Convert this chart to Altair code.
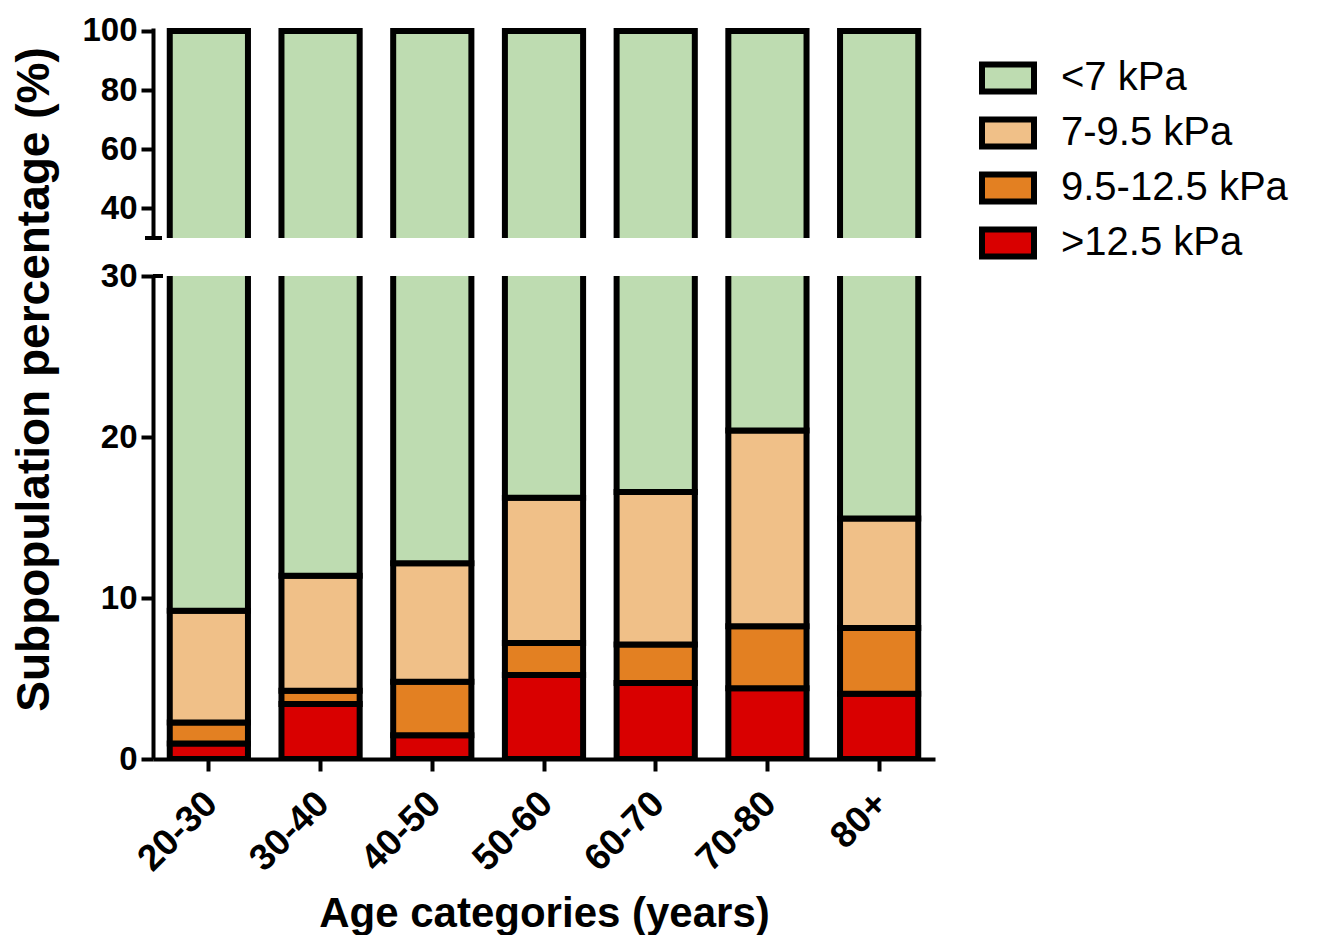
import altair as alt
import pandas as pd

ages = ["20-30", "30-40", "40-50", "50-60", "60-70", "70-80", "80+"]
categories = ["<7 kPa", "7-9.5 kPa", "9.5-12.5 kPa", ">12.5 kPa"]
colors = ["#BEDCB1", "#F0C088", "#E38022", "#D90000"]

red = [0.97, 3.42, 1.48, 5.21, 4.72, 4.39, 4.06]
orange = [1.29, 0.82, 3.32, 2.00, 2.39, 3.85, 4.08]
peach = [6.95, 7.14, 7.36, 9.01, 9.48, 12.17, 6.80]
green = [round(100 - r - o - p, 2) for r, o, p in zip(red, orange, peach)]

rows = []
for i, a in enumerate(ages):
    for cat, vals, ordv in [(">12.5 kPa", red, 0), ("9.5-12.5 kPa", orange, 1),
                            ("7-9.5 kPa", peach, 2), ("<7 kPa", green, 3)]:
        rows.append({"age": a, "cat": cat, "value": vals[i], "ord": ordv})
df = pd.DataFrame(rows)

FONT = "Liberation Sans"
W = 782

color = alt.Color(
    "cat:N",
    scale=alt.Scale(domain=categories, range=colors),
    legend=alt.Legend(
        title=None, orient="none", legendX=826, legendY=21, padding=0,
        symbolType="M-1,-0.52H1V0.52H-1Z", symbolSize=2704,
        symbolStrokeColor="black", symbolStrokeWidth=6, symbolOpacity=1,
        labelFontSize=40, labelFont=FONT, labelColor="black", labelLimit=0,
        labelOffset=24, rowPadding=0,
    ),
)

xscale = alt.Scale(paddingInner=0.3, paddingOuter=0.15)
common_y_axis = dict(domainColor="black", domainWidth=4, tickColor="black",
                     tickWidth=4, tickSize=12, labelFont=FONT, labelFontSize=33,
                     labelFontWeight="bold", labelColor="black", labelPadding=4,
                     grid=False)

upper_bars = alt.Chart(df).mark_bar(stroke="black", strokeWidth=6, clip=True).encode(
    x=alt.X("age:N", sort=ages, scale=xscale, axis=None),
    y=alt.Y("value:Q", stack="zero", scale=alt.Scale(domain=[30, 101], nice=False),
            axis=alt.Axis(values=[40, 60, 80, 100], title=None, **common_y_axis)),
    color=color,
    order=alt.Order("ord:Q", sort="ascending"),
)
upper_break = alt.Chart(df).mark_rule(color="black", strokeWidth=4).encode(
    y=alt.datum(30), x=alt.value(-8), x2=alt.value(9)
)
upper = alt.layer(upper_bars, upper_break).properties(width=W, height=210)

lower_bars = alt.Chart(df).mark_bar(stroke="black", strokeWidth=6, clip=True).encode(
    x=alt.X("age:N", sort=ages, scale=xscale,
            axis=alt.Axis(title="Age categories (years)", labelAngle=-45,
                          labelFont=FONT, labelFontSize=37, labelFontWeight="bold",
                          labelColor="black", labelPadding=14, labelOffset=-10,
                          titleFont=FONT, titleFontSize=42, titleFontWeight="bold",
                          titleColor="black", titlePadding=16,
                          domainColor="black", domainWidth=4, tickColor="black",
                          tickWidth=4, tickSize=12, grid=False)),
    y=alt.Y("value:Q", stack="zero", scale=alt.Scale(domain=[0, 30], nice=False),
            axis=alt.Axis(values=[0, 10, 20, 30], title="Subpopulation percentage (%)",
                          titleFont=FONT, titleFontSize=46, titleFontWeight="bold",
                          titleColor="black", titleY=103, titlePadding=42,
                          **common_y_axis)),
    color=color,
    order=alt.Order("ord:Q", sort="ascending"),
)
lower_break = alt.Chart(df).mark_rule(color="black", strokeWidth=4).encode(
    y=alt.datum(30), x=alt.value(0), x2=alt.value(10)
)
lower = alt.layer(lower_bars, lower_break).properties(width=W, height=483)

chart = alt.vconcat(upper, lower, spacing=38, bounds="flush").resolve_scale(
    y="independent"
).configure_view(stroke=None).properties(
    padding={"left": 3, "top": 6, "right": 5, "bottom": 0}
)

chart.save("out.html", embed_options={"renderer": "svg", "actions": False})
